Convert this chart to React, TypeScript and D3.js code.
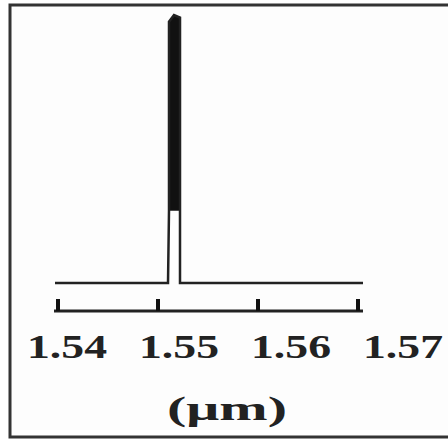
import React from 'react';
import { scaleLinear, line, area } from 'd3';

// spectrum trace
const wavelength = [1.5397, 1.551, 1.5511, 1.5511, 1.5516, 1.5522, 1.5522, 1.5522, 1.5705];
const intensity = [0, 0, 0.27, 0.975, 1.0, 0.99, 0.27, 0, 0];
const tickValues = [1.54, 1.55, 1.56, 1.57];
const tickLabels = ['1.54', '1.55', '1.56', '1.57'];
const unitLabel = '(μm)';

const W = 448;
const H = 439;

const App: React.FC = () => {
    const x = scaleLinear().domain([1.54, 1.57]).range([58, 358]);
    const y = scaleLinear().domain([0, 1]).range([283, 15]);
    // labels in the scan are spread wider than the ticks
    const xLabel = scaleLinear().domain([1.54, 1.57]).range([67, 403]);

    const pts = wavelength.map((w, i) => ({ w, v: intensity[i] }));
    const trace = line<{ w: number; v: number }>().x(d => x(d.w)).y(d => y(d.v));
    const peakFill = area<{ w: number; v: number }>()
        .x(d => x(d.w))
        .y0(y(0.27))
        .y1(d => y(d.v));
    const peakPts = pts.filter(d => d.v >= 0.27);

    const axisY = 311;

    return (
        <svg width={W} height={H} style={{ position: 'absolute', left: 0, top: 0, background: '#fff' }}>
            <rect x={10} y={5} width={450} height={432} fill="#fdfdfd" stroke="#333" strokeWidth={3} />
            <path d={peakFill(peakPts) || ''} fill="#111" />
            <path d={trace(pts) || ''} fill="none" stroke="#222" strokeWidth={2.5} />
            <line x1={x(1.5397) - 1} x2={x(1.5705)} y1={axisY} y2={axisY} stroke="#222" strokeWidth={3} />
            {tickValues.map(t => (
                <line key={t} x1={x(t)} x2={x(t)} y1={axisY} y2={axisY - 12} stroke="#111" strokeWidth={4} />
            ))}
            {tickValues.map((t, i) => (
                <text key={'l' + t} x={xLabel(t)} y={358} textAnchor="middle"
                    fontFamily="'Liberation Serif', serif" fontWeight="bold" fontSize={34}
                    fill="#222" textLength={80} lengthAdjust="spacingAndGlyphs">
                    {tickLabels[i]}
                </text>
            ))}
            <text x={227} y={420} textAnchor="middle" fontFamily="'Liberation Serif', serif"
                fontWeight="bold" fontSize={34} fill="#222" textLength={120} lengthAdjust="spacingAndGlyphs">
                {unitLabel}
            </text>
        </svg>
    );
};

export default App;
